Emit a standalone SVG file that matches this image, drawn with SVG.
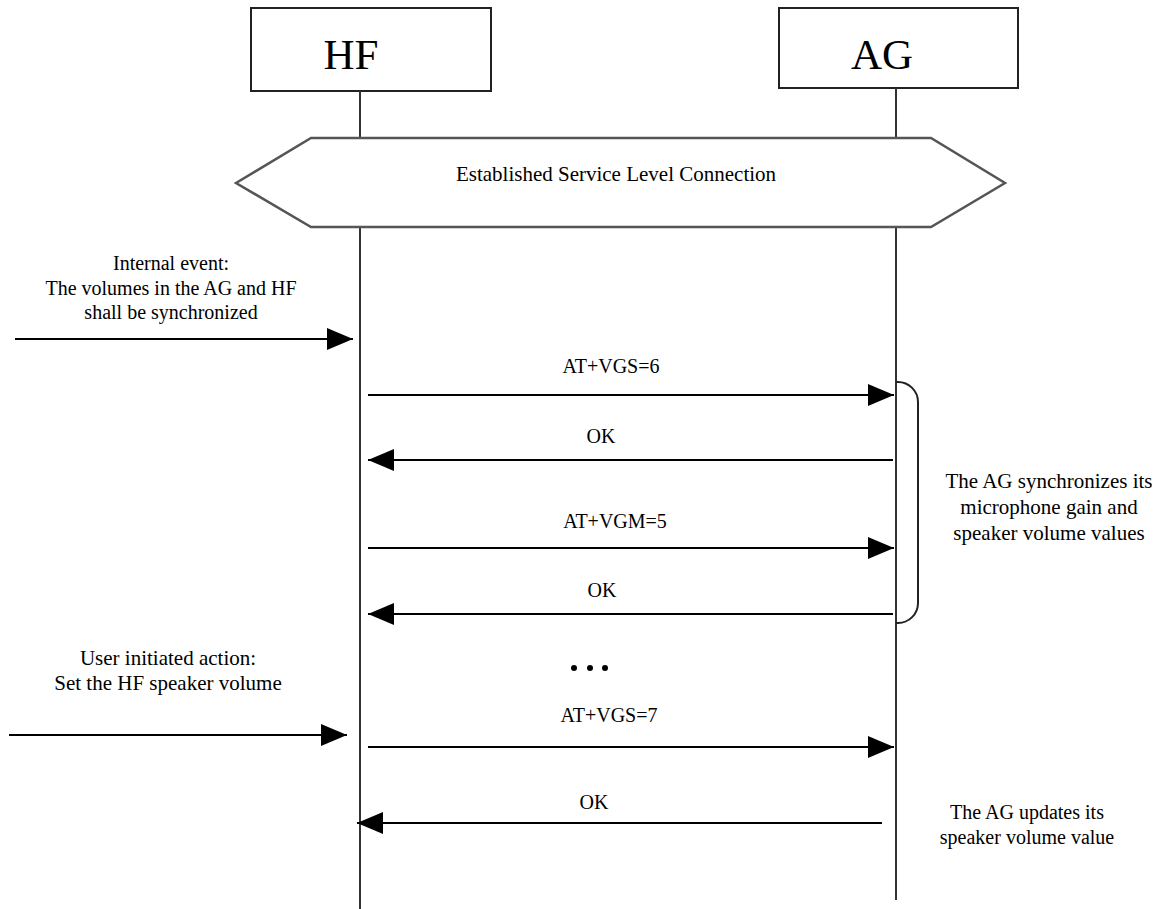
<svg xmlns="http://www.w3.org/2000/svg" width="1159" height="909" viewBox="0 0 1159 909">
<style>
.box{fill:#fff;stroke:#222;stroke-width:2}
.life{stroke:#333;stroke-width:2;fill:none}
.msg{stroke:#000;stroke-width:2;fill:none;marker-end:url(#ah)}
.t{font-family:"Liberation Serif","Times New Roman",serif;fill:#000;text-anchor:middle}
.big{font-size:43px}
.lbl{font-size:20px}
.note{font-size:20px}
.note2{font-size:21px}
</style>
<defs>
<marker id="ah" viewBox="0 0 26 22" refX="26" refY="11" markerWidth="26" markerHeight="22" markerUnits="userSpaceOnUse" orient="auto">
<path d="M0,0 L26,11 L0,22 Z" fill="#000"/>
</marker>
</defs>
<rect width="1159" height="909" fill="#fff"/>
<g id="HF">
<rect class="box" x="251" y="8" width="240" height="83"/>
<text class="t big" x="351" y="69">HF</text>
<line class="life" x1="360" y1="91" x2="360" y2="138"/>
<line class="life" x1="360" y1="227" x2="360" y2="909"/>
</g>
<g id="AG">
<rect class="box" x="779" y="8" width="239" height="80"/>
<text class="t big" x="882" y="69">AG</text>
<line class="life" x1="896" y1="88" x2="896" y2="138"/>
<line class="life" x1="896" y1="227" x2="896" y2="900"/>
</g>
<g id="slc">
<polygon points="236,183 311,138 931,138 1005,183 931,227 311,227" fill="#fff" stroke="#555" stroke-width="2.5"/>
<text class="t" x="616" y="181" font-size="21">Established Service Level Connection</text>
</g>
<g id="internal-event">
<text class="t note" x="171" y="270">Internal event:</text>
<text class="t note" x="171" y="295">The volumes in the AG and HF</text>
<text class="t note" x="171" y="319">shall be synchronized</text>
</g>
<g id="user-action">
<text class="t note2" x="168" y="665">User initiated action:</text>
<text class="t note2" x="168" y="690">Set the HF speaker volume</text>
</g>
<g id="sync-note">
<path d="M896,382 h2 a20,20 0 0 1 20,20 V603 a20,20 0 0 1 -20,20 h-2" fill="none" stroke="#222" stroke-width="2"/>
<text class="t note2" x="1049" y="488">The AG synchronizes its</text>
<text class="t note2" x="1049" y="514">microphone gain and</text>
<text class="t note2" x="1049" y="540">speaker volume values</text>
</g>
<g id="update-note">
<text class="t note" x="1027" y="819">The AG updates its</text>
<text class="t note" x="1027" y="844">speaker volume value</text>
</g>
<g id="ellipsis">
<circle cx="574" cy="668" r="3"/>
<circle cx="590" cy="668" r="3"/>
<circle cx="605" cy="668" r="3"/>
</g>
<g id="connectors">
<path class="msg" d="M15,339 L353,339"/>
<path class="msg" d="M368,395 L894,395"/>
<path class="msg" d="M893,460 L368,460"/>
<path class="msg" d="M368,548 L894,548"/>
<path class="msg" d="M893,614 L368,614"/>
<path class="msg" d="M9,735 L347,735"/>
<path class="msg" d="M368,747 L894,747"/>
<path class="msg" d="M882,823 L357,823"/>
</g>
<g id="labels">
<text class="t lbl" x="611" y="373">AT+VGS=6</text>
<text class="t lbl" x="601" y="443">OK</text>
<text class="t lbl" x="615" y="528">AT+VGM=5</text>
<text class="t lbl" x="602" y="597">OK</text>
<text class="t lbl" x="609" y="722">AT+VGS=7</text>
<text class="t lbl" x="594" y="809">OK</text>
</g>
</svg>
